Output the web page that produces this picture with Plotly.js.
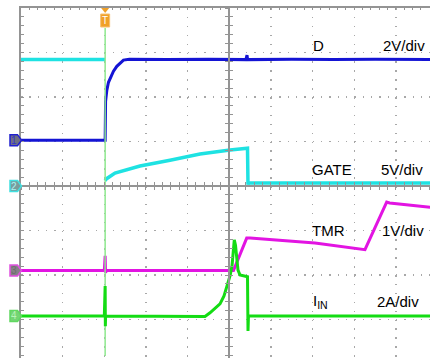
<!DOCTYPE html>
<html>
<head>
<meta charset="utf-8">
<script src="https://cdn.plot.ly/plotly-3.0.1.min.js"></script>
<style>html,body{margin:0;padding:0;background:#fff;}#chart{width:430px;height:358px;}</style>
</head>
<body>
<div id="chart"></div>
<script>
// Time in divisions (10 div full screen), values in vertical divisions (0 = screen centre)
const dTime   = [0, 2.02, 2.03, 2.035, 2.06, 2.1, 2.16, 2.22, 2.3, 2.38, 2.46, 2.6, 3.5, 4.5, 5.4, 5.425, 5.44, 6.5, 7.5, 8.5, 9.82];
const dVal    = [1.03, 1.03, 1.9, 2.0, 2.15, 2.33, 2.47, 2.58, 2.69, 2.77, 2.83, 2.85, 2.84, 2.85, 2.84, 2.94, 2.84, 2.85, 2.84, 2.85, 2.84];

const gateTime = [0, 2.02, 2.02, 2.016, 2.064, 2.256, 2.856, 3.577, 4.297, 5.017, 5.401, 5.437, 5.449, 5.46, 9.82];
const gateVal  = [2.84, 2.84, null, 0.12, 0.17, 0.29, 0.45, 0.58, 0.72, 0.81, 0.84, 0.85, 0.03, 0.07, 0.07];

const tmrTime = [0, 2.0, 2.02, 2.03, 2.05, 5.065, 5.1, 5.418, 5.5, 7.057, 8.257, 8.778, 8.85, 9.82];
const tmrVal  = [-1.90, -1.90, -1.57, -1.95, -1.90, -1.90, -1.90, -1.17, -1.17, -1.28, -1.43, -0.36, -0.38, -0.48];

const iinTime = [0, 2.0, 2.02, 2.025, 2.03, 2.05, 4.417, 4.537, 4.657, 4.777, 4.873, 4.945, 5.017, 5.065, 5.096, 5.12, 5.149, 5.178, 5.209, 5.257, 5.425, 5.437, 5.449, 5.46, 9.82];
const iinVal  = [-2.92, -2.92, -2.25, -3.15, -2.92, -2.92, -2.93, -2.85, -2.76, -2.65, -2.47, -2.27, -2.02, -1.80, -1.51, -1.21, -1.33, -1.71, -1.89, -2.0, -2.04, -2.04, -3.26, -2.92, -2.92];

const spikeTime = [2.02, 2.02];
const spikeVal  = [3.55, -3.82];

const channelNames  = ['1', '2', '3', '4'];
const channelLevels = [1.03, 0, -1.90, -2.92];
const triggerTime = 2.02;

const labels = [
  {text: 'D', x: 7.13, y: 3.15}, {text: '2V/div', x: 9.19, y: 3.15},
  {text: 'GATE', x: 7.46, y: 0.36}, {text: '5V/div', x: 9.15, y: 0.36},
  {text: 'TMR', x: 7.37, y: -1.0}, {text: '1V/div', x: 9.17, y: -1.0},
  {text: 'I<sub>IN</sub>', x: 7.2, y: -2.6}, {text: '2A/div', x: 9.05, y: -2.6}
];

const XR = [0, 9.818], YR = [-3.865, 4];
const W = 430, H = 358, L = 21, T = 8;
const pw = W - L, ph = H - T;
const gx = v => (v - XR[0]) / (XR[1] - XR[0]);           // data -> paper
const gy = v => (v - YR[0]) / (YR[1] - YR[0]);
const pxX = p => p / pw;                                  // pixel offset -> paper
const pxY = p => p / ph;

const C_D = '#1414d4', C_G = '#1ee2e2', C_T = '#e214e2', C_I = '#14dc14';

const traces = [
  {x: gateTime, y: gateVal, mode: 'lines', line: {color: C_G, width: 3.5}, connectgaps: false},
  {x: dTime, y: dVal, mode: 'lines', line: {color: C_D, width: 3}},
  {x: tmrTime, y: tmrVal, mode: 'lines', line: {color: C_T, width: 3}},
  {x: spikeTime, y: spikeVal, mode: 'lines', line: {color: '#8ee88e', width: 1.5}},
  {x: iinTime, y: iinVal, mode: 'lines', line: {color: C_I, width: 3}},
  {x: [], y: [], xaxis: 'x2', yaxis: 'y'},
  {x: [], y: [], xaxis: 'x3', yaxis: 'y'},
  {x: [], y: [], xaxis: 'x', yaxis: 'y2'},
  {x: [], y: [], xaxis: 'x', yaxis: 'y3'}
];
traces.forEach(t => { t.showlegend = false; t.hoverinfo = 'skip'; });

const GRID = '#a8a8a8', AX = '#949494';
const centreX = {overlaying: 'x', anchor: 'free', position: gy(0), range: XR, showline: true, linecolor: AX, linewidth: 2,
  dtick: 0.2, tick0: 0, ticklen: 3, tickcolor: AX, tickwidth: 1, showgrid: false, zeroline: false, showticklabels: false};
const centreY = {overlaying: 'y', anchor: 'free', position: gx(5), range: YR, showline: true, linecolor: AX, linewidth: 2,
  dtick: 0.2, tick0: 0, ticklen: 3, tickcolor: AX, tickwidth: 1, showgrid: false, zeroline: false, showticklabels: false};

const shapes = [];
const annotations = [];
const markerStyles = [
  {fill: '#6e6e84', line: '#2020d0', font: '#3434c8'},
  {fill: '#7a9c9c', line: '#40e0e0', font: '#a8f4f4'},
  {fill: '#868086', line: '#e050e0', font: '#6c6c6c'},
  {fill: '#74d474', line: '#60d860', font: '#b8f4b8'}
];
channelLevels.forEach((lv, i) => {
  const cy = gy(lv), s = markerStyles[i];
  const x0 = pxX(-11), x1 = pxX(-3.5), x2 = pxX(0.5);
  const h = pxY(5.5);
  shapes.push({type: 'path', xref: 'paper', yref: 'paper', layer: 'above',
    path: `M${x0},${cy - h} L${x1},${cy - h} L${x2},${cy} L${x1},${cy + h} L${x0},${cy + h} Z`,
    fillcolor: s.fill, line: {color: s.line, width: 1.5}});
  annotations.push({xref: 'paper', yref: 'paper', x: pxX(-7), y: cy, text: channelNames[i], showarrow: false,
    xanchor: 'center', yanchor: 'middle', font: {family: 'Liberation Sans, Arial', size: 10, color: s.font}});
});

// trigger marker
const tx = gx(triggerTime);
shapes.push({type: 'path', xref: 'paper', yref: 'paper', layer: 'above',
  path: `M${tx - pxX(4)},1 L${tx + pxX(4)},1 L${tx},${1 - pxY(5)} Z`, fillcolor: '#f0a028', line: {width: 0}});
shapes.push({type: 'rect', xref: 'paper', yref: 'paper', layer: 'above',
  x0: tx - pxX(4.5), x1: tx + pxX(4.5), y0: 1 - pxY(19), y1: 1 - pxY(6), fillcolor: '#f0a028', line: {color: '#f6c070', width: 1}});
annotations.push({xref: 'paper', yref: 'paper', x: tx, y: 1 - pxY(12.5), text: 'T', showarrow: false,
  xanchor: 'center', yanchor: 'middle', font: {family: 'Liberation Sans, Arial', size: 10, color: '#ffffff'}});

labels.forEach(l => annotations.push({x: l.x, y: l.y, xref: 'x', yref: 'y', text: l.text, showarrow: false,
  xanchor: 'center', yanchor: 'middle', font: {family: 'Liberation Sans, Arial', size: 15, color: '#000'}}));

const layout = {
  width: W, height: H, margin: {l: L, r: 0, t: T, b: 0, pad: 0},
  paper_bgcolor: '#fff', plot_bgcolor: '#fff', showlegend: false,
  xaxis: {range: XR, side: 'top', showline: true, linecolor: AX, linewidth: 2, zeroline: false, showticklabels: false,
    dtick: 1, tick0: 0, ticks: 'inside', ticklen: 2, tickcolor: AX,
    minor: {dtick: 0.2, tick0: 0, ticks: 'inside', ticklen: 2, tickcolor: AX, showgrid: false},
    showgrid: true, gridcolor: GRID, gridwidth: 1.5, griddash: '1.5px,7.4px'},
  yaxis: {range: YR, side: 'left', showline: true, linecolor: AX, linewidth: 2, zeroline: false, showticklabels: false,
    dtick: 1, tick0: 0, ticks: 'inside', ticklen: 3, tickcolor: AX,
    minor: {dtick: 0.2, tick0: 0, ticks: 'inside', ticklen: 3, tickcolor: AX, showgrid: false},
    showgrid: true, gridcolor: GRID, gridwidth: 1.5, griddash: '1.5px,6.83px'},
  xaxis2: Object.assign({}, centreX, {ticks: 'outside'}),
  xaxis3: Object.assign({}, centreX, {ticks: 'inside'}),
  yaxis2: Object.assign({}, centreY, {side: 'left', ticks: 'outside'}),
  yaxis3: Object.assign({}, centreY, {side: 'left', ticks: 'inside'}),
  shapes: shapes, annotations: annotations
};

Plotly.newPlot('chart', traces, layout, {staticPlot: true, displayModeBar: false});
</script>
</body>
</html>
